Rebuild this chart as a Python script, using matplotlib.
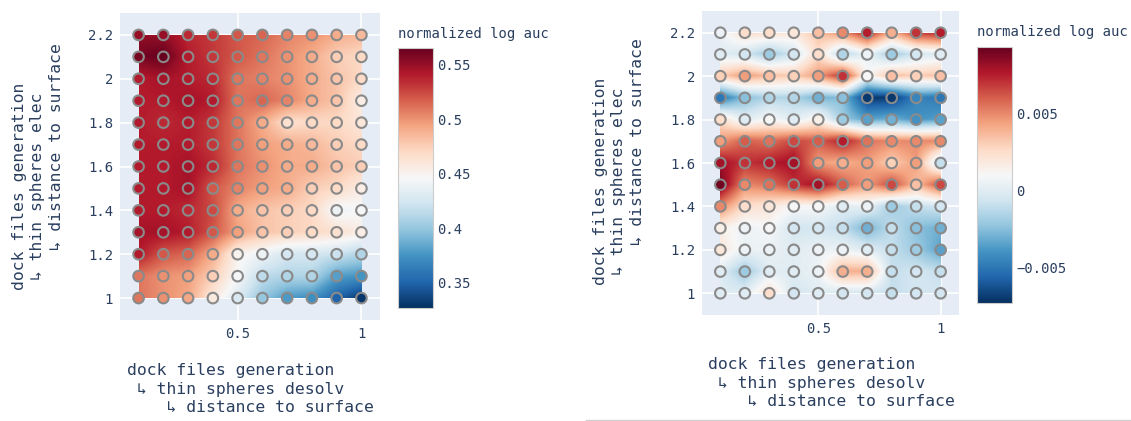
import numpy as np
import matplotlib
matplotlib.use('Agg')
import matplotlib.pyplot as plt
from matplotlib.colors import Normalize
from matplotlib.lines import Line2D
from matplotlib.patches import Rectangle

plt.rcParams['font.family'] = ['DejaVu Sans Mono', 'DejaVu Sans']

# grid of trial parameters
desolv = [0.1, 0.2, 0.3, 0.4, 0.5, 0.6, 0.7, 0.8, 0.9, 1.0]
elec = [1.0, 1.1, 1.2, 1.3, 1.4, 1.5, 1.6, 1.7, 1.8, 1.9, 2.0, 2.1, 2.2]

# left panel: normalized log auc, rows go from elec=1.0 up to 2.2
auc_left = [
    [0.510, 0.500, 0.492, 0.458, 0.428, 0.400, 0.378, 0.372, 0.350, 0.330],
    [0.510, 0.500, 0.495, 0.475, 0.445, 0.415, 0.410, 0.410, 0.380, 0.375],
    [0.540, 0.520, 0.515, 0.490, 0.450, 0.440, 0.425, 0.425, 0.420, 0.410],
    [0.545, 0.545, 0.540, 0.520, 0.495, 0.480, 0.475, 0.470, 0.465, 0.455],
    [0.540, 0.540, 0.535, 0.525, 0.490, 0.480, 0.475, 0.470, 0.440, 0.445],
    [0.540, 0.540, 0.545, 0.520, 0.505, 0.495, 0.490, 0.475, 0.470, 0.455],
    [0.540, 0.540, 0.545, 0.535, 0.510, 0.500, 0.490, 0.490, 0.480, 0.475],
    [0.540, 0.540, 0.540, 0.530, 0.510, 0.495, 0.490, 0.485, 0.475, 0.470],
    [0.540, 0.535, 0.540, 0.530, 0.510, 0.490, 0.465, 0.470, 0.470, 0.460],
    [0.540, 0.540, 0.545, 0.540, 0.510, 0.515, 0.505, 0.490, 0.480, 0.455],
    [0.540, 0.545, 0.540, 0.535, 0.510, 0.505, 0.500, 0.490, 0.480, 0.470],
    [0.560, 0.565, 0.540, 0.530, 0.520, 0.510, 0.500, 0.490, 0.475, 0.470],
    [0.550, 0.550, 0.535, 0.530, 0.520, 0.515, 0.505, 0.500, 0.490, 0.485],
]

# right panel: normalized log auc (difference), in units of 1e-3
auc_right_milli = [
    [0.0, 0.0, 2.5, -0.5, 0.0, -0.5, -0.5, -1.0, -0.5, -0.5],
    [0.0, -2.0, 0.0, 0.0, 0.5, 4.0, 4.0, -1.0, -0.5, -1.0],
    [2.0, 0.5, 0.5, 0.0, 0.5, 0.5, 0.0, -1.0, -2.0, -3.5],
    [1.5, 0.5, 1.0, -0.5, -0.5, -1.0, -3.0, -1.0, -2.5, -3.0],
    [5.0, 2.5, 2.0, 1.0, 1.0, 0.0, 0.5, -2.0, -1.0, -0.5],
    [9.0, 5.0, 5.5, 7.0, 8.0, 6.0, 4.5, 6.5, 3.5, 6.5],
    [8.0, 7.0, 7.5, 8.0, 4.5, 4.0, 4.5, 3.0, 4.5, -1.0],
    [4.5, 6.0, 5.5, 6.5, 6.0, 7.5, 5.5, 5.0, 5.0, 5.0],
    [2.5, 0.0, 1.0, 0.0, 1.5, -2.0, -3.5, -3.0, -4.0, -3.5],
    [-5.0, -2.5, -1.5, -1.5, -3.0, -2.5, -7.0, -7.0, -4.5, -5.0],
    [3.0, 4.5, 3.5, 3.0, 4.5, 7.0, 1.0, 3.5, 3.0, 3.5],
    [0.0, -0.5, -2.0, -0.5, 2.5, -1.5, 0.5, -2.0, -0.5, 0.0],
    [0.5, 2.5, 2.5, 2.0, 3.5, 5.0, 7.5, 4.0, 7.0, 7.5],
]

left_ticks = [0.35, 0.4, 0.45, 0.5, 0.55]
right_ticks = [-0.005, 0, 0.005]

text_color = '#2a3f5f'
bg_color = '#e5ecf6'
ylabel = 'dock files generation\n ↳ thin spheres elec\n    ↳ distance to surface'
xlabel = 'dock files generation\n ↳ thin spheres desolv\n    ↳ distance to surface'

W, H = 1131, 421
fig = plt.figure(figsize=(W / 100, H / 100), dpi=100)


def box(l, t, r, b):
    return [l / W, 1 - b / H, (r - l) / W, (b - t) / H]


def panel(ax_box, cb_box, z, vmin, vmax, ticks, ticklabels, ylab_x, ylab_y, xlab_x, xlab_y, cb_title_y):
    ax = fig.add_axes(ax_box)
    ax.set_facecolor(bg_color)
    z = np.array(z)
    X, Y = np.meshgrid(desolv, elec)
    norm = Normalize(vmin=vmin, vmax=vmax)
    dx = (desolv[1] - desolv[0]) / 2
    dy = (elec[1] - elec[0]) / 2
    img = ax.imshow(z, origin='lower', cmap='RdBu_r', norm=norm, interpolation='bilinear',
                    extent=[desolv[0] - dx, desolv[-1] + dx, elec[0] - dy, elec[-1] + dy],
                    aspect='auto', zorder=1)
    clip = Rectangle((desolv[0], elec[0]), desolv[-1] - desolv[0], elec[-1] - elec[0],
                     transform=ax.transData, facecolor='none', edgecolor='none')
    ax.add_patch(clip)
    img.set_clip_path(clip)
    ax.scatter(X.ravel(), Y.ravel(), s=58, c=z.ravel(), cmap='RdBu_r', norm=norm,
               edgecolors='#8a8a8a', linewidths=1.5, zorder=3)
    ax.set_xlim(0.025, 1.075)
    ax.set_ylim(0.9, 2.3)
    ax.set_xticks([0.5, 1])
    ax.set_xticklabels(['0.5', '1'])
    ax.set_yticks([1, 1.2, 1.4, 1.6, 1.8, 2, 2.2])
    ax.set_yticklabels(['1', '1.2', '1.4', '1.6', '1.8', '2', '2.2'])
    ax.grid(True, color='white', linewidth=1.2, zorder=0)
    ax.set_axisbelow(True)
    for sp in ax.spines.values():
        sp.set_visible(False)
    ax.tick_params(length=0, pad=5, labelsize=10, colors=text_color)

    cax = fig.add_axes(cb_box)
    cb = fig.colorbar(img, cax=cax, ticks=ticks)
    cb.ax.set_yticklabels(ticklabels)
    cb.ax.tick_params(length=0, pad=3, labelsize=10, colors=text_color)
    cb.outline.set_edgecolor('#cccccc')
    cb.outline.set_linewidth(0.8)
    fig.text(cb_box[0], cb_title_y, 'normalized log auc', fontsize=10, color=text_color,
             ha='left', va='center')

    fig.text(ylab_x, ylab_y, ylabel, rotation=90, ha='center', va='bottom',
             multialignment='left', fontsize=11.8, color=text_color, linespacing=1.3)
    fig.text(xlab_x, xlab_y, xlabel, ha='left', va='top',
             multialignment='left', fontsize=11.8, color=text_color, linespacing=1.3)


panel(box(120, 13, 380, 320), box(398, 48, 433, 308), auc_left, 0.327, 0.565,
      left_ticks, ['0.35', '0.4', '0.45', '0.5', '0.55'],
      38 / W, 1 - 290 / H, 127 / W, 1 - 363 / H, 1 - 34 / H)

auc_right = [[v / 1000 for v in row] for row in auc_right_milli]
panel(box(702, 11, 959, 315), box(977, 47, 1012, 303), auc_right, -0.0073, 0.0093,
      right_ticks, ['−0.005', '0', '0.005'],
      619 / W, 1 - 285 / H, 708 / W, 1 - 357 / H, 1 - 32 / H)

fig.add_artist(Line2D([586 / W, 1], [1 - 419.5 / H, 1 - 419.5 / H], color='#d0d0d0', linewidth=1))

fig.savefig('out.png', dpi=100)
